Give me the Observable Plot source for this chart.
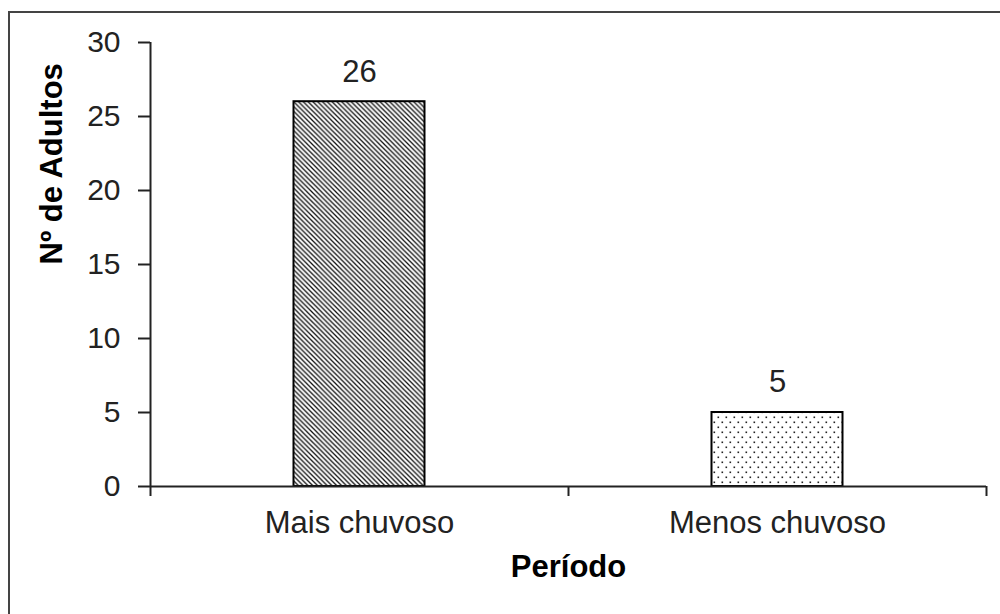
<!DOCTYPE html>
<html>
<head>
<meta charset="utf-8">
<script src="https://cdn.jsdelivr.net/npm/d3@7"></script>
<script src="https://cdn.jsdelivr.net/npm/@observablehq/plot@0.6"></script>
<style>
  html, body { margin: 0; padding: 0; background: #fff; overflow: hidden; }
  #wrap { position: relative; width: 1000px; height: 614px; }
  #frame { position: absolute; left: 8px; top: 11px; width: 1100px; height: 700px;
           border-left: 2px solid #444; border-top: 2px solid #444; box-sizing: border-box; pointer-events: none; }
  #chart { position: absolute; left: 0; top: 0; }
  svg { font-family: "Liberation Sans", Arial, sans-serif; }
</style>
</head>
<body>
<div id="wrap"><div id="chart"></div><div id="frame"></div></div>
<script>
const categories = ["Mais chuvoso", "Menos chuvoso"];
const values = [26, 5];
const patterns = ["url(#hatch)", "url(#dots)"];
const yTicks = [0, 5, 10, 15, 20, 25, 30];
const xTitle = "Período";
const yTitle = "Nº de Adultos";

const table = categories.map((c, i) => ({cat: c, i, value: values[i], fill: patterns[i]}));

const plot = Plot.plot({
  width: 1000,
  height: 614,
  marginLeft: 150,
  marginRight: 14,
  marginTop: 42,
  marginBottom: 128,
  style: {fontFamily: "'Liberation Sans', Arial, sans-serif", color: "#000", background: "transparent"},
  x: {type: "linear", domain: [0, categories.length], axis: null},
  y: {domain: [0, 30], axis: null},
  marks: [
    Plot.rectY(table, {
      x1: d => d.i, x2: d => d.i + 1, y1: 0, y2: "value",
      fill: d => d.fill, insetLeft: 143.5, insetRight: 143.5,
      stroke: "#000", strokeWidth: 2
    }),
    Plot.ruleX([0], {stroke: "#222", strokeWidth: 2}),
    Plot.ruleY([0], {stroke: "#222", strokeWidth: 2}),
    Plot.axisY({ticks: yTicks, tickSize: 12, tickPadding: 18, fontSize: 30, strokeWidth: 2, stroke: "#222", label: null, fill: "#222"}),
    Plot.axisX({ticks: d3.range(categories.length + 1), tickSize: 10, tickFormat: () => "", strokeWidth: 2, stroke: "#222", label: null}),
    Plot.text(table, {x: d => d.i + 0.5, y: 0, text: "cat", dy: 37, fontSize: 31, fill: "#222"}),
    Plot.text(table, {x: d => d.i + 0.5, y: "value", text: d => String(d.value), dy: -30, fontSize: 31, fill: "#222"}),
    Plot.text([xTitle], {x: categories.length / 2, y: 0, text: d => d, dy: 81, fontSize: 31, fontWeight: "bold", fill: "#000"}),
    Plot.text([yTitle], {frameAnchor: "left", text: d => d, rotate: -90, dx: -98, fontSize: 31, fontWeight: "bold", fill: "#000"})
  ]
});

const svg = d3.select(plot);
const defs = svg.insert("defs", ":first-child");
const hatch = defs.append("pattern").attr("id", "hatch").attr("patternUnits", "userSpaceOnUse")
  .attr("width", 4.8).attr("height", 4.8);
hatch.append("rect").attr("width", 4.8).attr("height", 4.8).attr("fill", "#fff");
hatch.append("path").attr("d", "M-1,-1 L5.8,5.8 M-1,3.8 L1,5.8 M3.8,-1 L5.8,1")
  .attr("stroke", "#111").attr("stroke-width", 1.3);
const dots = defs.append("pattern").attr("id", "dots").attr("patternUnits", "userSpaceOnUse")
  .attr("width", 8).attr("height", 10);
dots.append("rect").attr("width", 8).attr("height", 10).attr("fill", "#fff");
dots.append("rect").attr("x", 1.5).attr("y", 1.5).attr("width", 1.6).attr("height", 1.6).attr("fill", "#222");
dots.append("rect").attr("x", 5.5).attr("y", 6.5).attr("width", 1.6).attr("height", 1.6).attr("fill", "#222");

document.getElementById("chart").appendChild(plot);
</script>
</body>
</html>
